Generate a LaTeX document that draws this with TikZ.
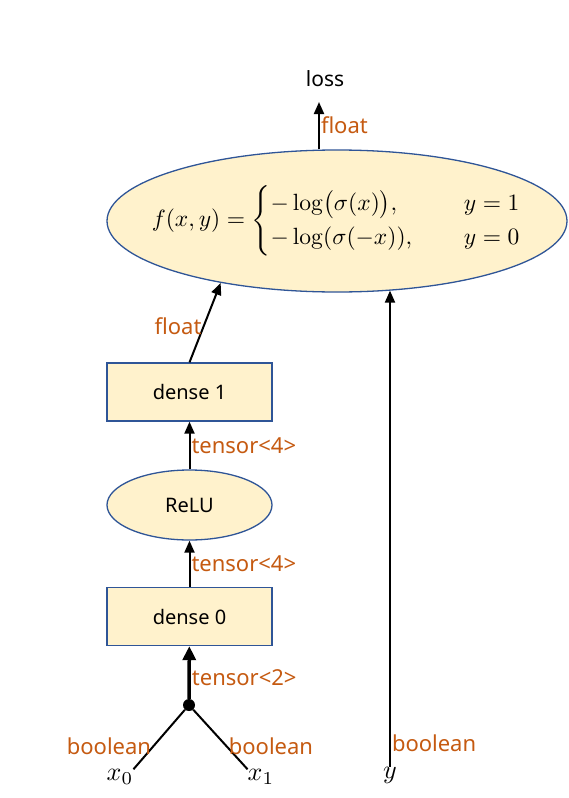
\documentclass[tikz,border=0pt]{standalone}
\usepackage[no-math]{fontspec}
\setmainfont{Noto Sans}
\usepackage{amsmath}
\usepackage{graphicx}
\usetikzlibrary{arrows.meta,positioning,calc,shapes.geometric}
\definecolor{Fill}{HTML}{FFF2CC}
\definecolor{Edge}{HTML}{2F5597}
\definecolor{Ann}{HTML}{C55A11}

\begin{document}
\begin{tikzpicture}[x=1pt,y=-1pt,
  box/.style={draw=Edge,fill=Fill,line width=1.3pt,minimum width=165pt,minimum height=58pt,font=\fontsize{20}{23}\selectfont},
  oval/.style={ellipse,draw=Edge,fill=Fill,line width=1.3pt,inner sep=0pt},
  lbl/.style={text=Ann,inner sep=1pt,font=\fontsize{22}{25}\selectfont},
  var/.style={inner sep=0pt},
  flow/.style={-{Triangle[length=12pt,width=10pt]},line width=2pt}]
\useasboundingbox (0,0) rectangle (568,798);
% nodes
\node[oval,minimum width=460pt,minimum height=142pt] (lossfn) at (337,221) {};
\node[inner sep=0pt] (lossexpr) at (lossfn.center)
  {\scalebox{2.35}{$f(x,y)=\begin{cases}-\log\bigl(\sigma(x)\bigr), & \hspace{1.2em} y=1\\ -\log(\sigma(-x)), & \hspace{1.2em} y=0\end{cases}$}};
\node[font=\fontsize{21}{24}\selectfont,inner sep=0pt] (loss) at (325,79) {loss};
\coordinate (lossin) at (319,102);
\node[box] (dense1) at (189.5,392) {dense 1};
\node[oval,minimum width=165pt,minimum height=70pt,font=\fontsize{20}{23}\selectfont] (relu) at (189.5,505) {ReLU};
\node[box] (dense0) at (189.5,616.5) {dense 0};
\node[circle,fill,inner sep=0pt,minimum size=12pt] (join) at (189,705) {};
\node[var] (x0) at (120,777) {\scalebox{2.6}{$x_0$}};
\node[var] (x1) at (261,777) {\scalebox{2.6}{$x_1$}};
\node[var] (y) at (390,775) {\scalebox{2.6}{$y$}};
% connectors
\draw[flow] (lossfn.north -| lossin) -- node[lbl,right] (f1) {float} (lossin);
\draw[flow] (dense1.north) -- node[lbl,left,pos=0.45] (f0) {float} (lossfn.-152);
\draw[flow] (relu) -- node[lbl,right] (t4b) {tensor<4>} (dense1);
\draw[flow] (dense0) -- node[lbl,right] (t4a) {tensor<4>} (relu);
\draw[-{Triangle[length=14pt,width=13pt]},line width=3.5pt] (join) -- node[lbl,right,pos=0.4] (t2) {tensor<2>} (dense0);
\draw[line width=2pt] (x0.north east) -- node[lbl,left,pos=0.38] (b0) {boolean} (join);
\draw[line width=2pt] (x1.north west) -- node[lbl,right,pos=0.38] (b1) {boolean} (join);
\draw[flow] (y.north) -- node[lbl,right,pos=0.05] (b2) {boolean} (y.north |- lossfn.-52.5);
\end{tikzpicture}
\end{document}
